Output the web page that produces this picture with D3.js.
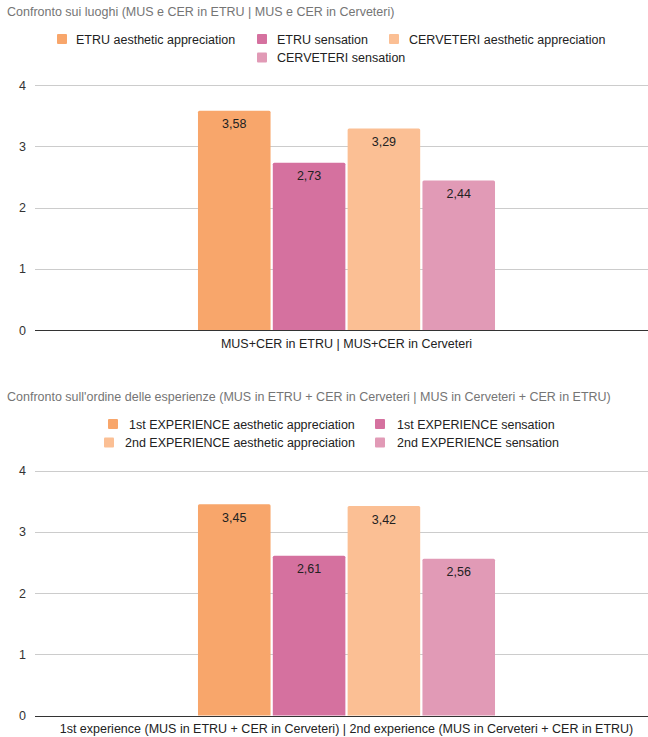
<!DOCTYPE html>
<html>
<head>
<meta charset="utf-8">
<script src="https://cdn.jsdelivr.net/npm/d3@7"></script>
<style>
  html, body { margin: 0; padding: 0; background: #fff; }
  svg { display: block; font-family: Arial, "Liberation Sans", sans-serif; }
</style>
</head>
<body>
<svg id="chart" width="648" height="737"></svg>
<script>
// Chart 1: comparison by place
const title1 = "Confronto sui luoghi (MUS e CER in ETRU | MUS e CER in Cerveteri)";
const category1 = ["MUS+CER in ETRU | MUS+CER in Cerveteri"];
const series1 = ["ETRU aesthetic appreciation", "ETRU sensation", "CERVETERI aesthetic appreciation", "CERVETERI sensation"];
const values1 = [3.58, 2.73, 3.29, 2.44];

// Chart 2: comparison by order of experiences
const title2 = "Confronto sull'ordine delle esperienze (MUS in ETRU + CER in Cerveteri | MUS in Cerveteri + CER in ETRU)";
const category2 = ["1st experience (MUS in ETRU + CER in Cerveteri) | 2nd experience (MUS in Cerveteri + CER in ETRU)"];
const series2 = ["1st EXPERIENCE aesthetic appreciation", "1st EXPERIENCE sensation", "2nd EXPERIENCE aesthetic appreciation", "2nd EXPERIENCE sensation"];
const values2 = [3.45, 2.61, 3.42, 2.56];

const yTicks = [0, 1, 2, 3, 4];
const colors = ["#F8A66B", "#D5719F", "#FBBF94", "#E19AB6"];

const FS = 12.5;
const svg = d3.select("#chart");

function drawChart(opts) {
  const g = svg.append("g");
  const { title, category, series, values, top, legendRows } = opts;

  // title
  g.append("text")
    .attr("x", 7).attr("y", top + 16)
    .attr("fill", "#757575").attr("font-size", FS)
    .text(title);

  // legend
  const color = d3.scaleOrdinal().domain(series).range(colors);
  legendRows.forEach(row => {
    row.items.forEach(it => {
      const lg = g.append("g").attr("transform", `translate(${it.x},${top + row.y})`);
      lg.append("rect").attr("x", 0).attr("y", -5).attr("width", 10).attr("height", 10)
        .attr("rx", 1).attr("fill", color(series[it.i]));
      lg.append("text").attr("x", it.tx).attr("y", 4.5)
        .attr("font-size", FS).attr("fill", "#222").text(series[it.i]);
    });
  });

  // scales
  const y0 = top + opts.baseY;
  const y = d3.scaleLinear().domain([0, 4]).range([y0, y0 - 245]);
  const x0 = d3.scaleBand().domain(category).range([35, 658]).padding(0.3543);
  const x1 = d3.scaleBand().domain(series).range([0, x0.bandwidth()]).paddingInner(0.03);

  // grid
  g.append("g").selectAll("line").data(yTicks.filter(t => t > 0)).join("line")
    .attr("x1", 35).attr("x2", 648)
    .attr("y1", d => Math.round(y(d)) + 0.5).attr("y2", d => Math.round(y(d)) + 0.5)
    .attr("stroke", "#cccccc").attr("stroke-width", 1);

  // y axis labels
  g.append("g").selectAll("text").data(yTicks).join("text")
    .attr("x", 26).attr("y", d => y(d) + 4.5)
    .attr("text-anchor", "end").attr("font-size", FS).attr("fill", "#333")
    .text(d => d);

  // bars
  const cat = category[0];
  const barG = g.append("g");
  series.forEach((s, i) => {
    const bx = x0(cat) + x1(s);
    const by = y(values[i]);
    const bw = x1.bandwidth();
    const r = 1.5;
    barG.append("path")
      .attr("d", `M${bx},${y(0)} V${by + r} Q${bx},${by} ${bx + r},${by} H${bx + bw - r} Q${bx + bw},${by} ${bx + bw},${by + r} V${y(0)} Z`)
      .attr("fill", color(s));
    barG.append("text")
      .attr("x", bx + bw / 2).attr("y", by + 17.5)
      .attr("text-anchor", "middle").attr("font-size", FS).attr("fill", "#222")
      .text(d3.format(".2f")(values[i]).replace(".", ","));
  });

  // baseline
  g.append("line")
    .attr("x1", 35).attr("x2", 648)
    .attr("y1", Math.round(y(0)) + 0.5).attr("y2", Math.round(y(0)) + 0.5)
    .attr("stroke", "#333").attr("stroke-width", 1);

  // category label
  g.append("text")
    .attr("x", x0(cat) + x0.bandwidth() / 2).attr("y", y(0) + 17.5)
    .attr("text-anchor", "middle").attr("font-size", FS).attr("fill", "#222")
    .text(cat);
}

drawChart({
  title: title1, category: category1, series: series1, values: values1,
  top: 0, baseY: 330,
  legendRows: [
    { y: 39, items: [{ i: 0, x: 57, tx: 19 }, { i: 1, x: 257, tx: 20 }, { i: 2, x: 389, tx: 20 }] },
    { y: 57.5, items: [{ i: 3, x: 257, tx: 20 }] }
  ]
});

drawChart({
  title: title2, category: category2, series: series2, values: values2,
  top: 385, baseY: 330.5,
  legendRows: [
    { y: 39, items: [{ i: 0, x: 108, tx: 21 }, { i: 1, x: 375, tx: 22 }] },
    { y: 57.5, items: [{ i: 2, x: 104, tx: 21 }, { i: 3, x: 375, tx: 22 }] }
  ]
});
</script>
</body>
</html>
